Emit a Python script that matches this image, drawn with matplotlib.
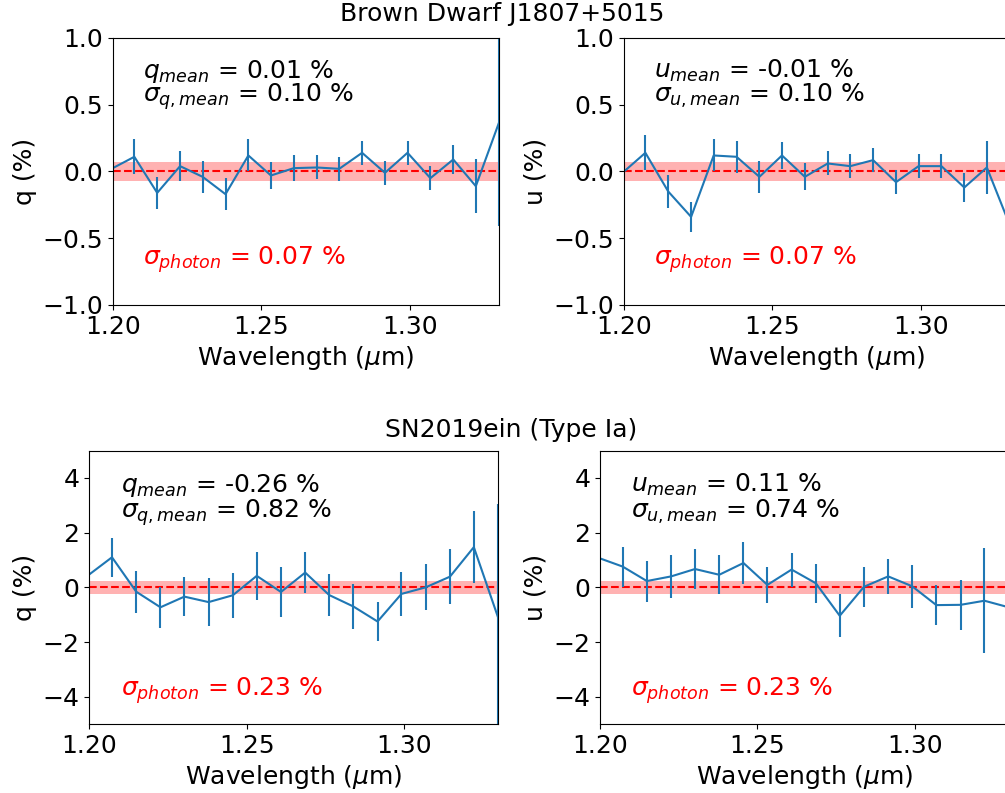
import numpy as np
import matplotlib
matplotlib.use("Agg")
import matplotlib.pyplot as plt

# wavelength bins (micron)
wave = [1.1995, 1.2072, 1.2149, 1.2226, 1.2302, 1.2379, 1.2456, 1.2532, 1.2609,
        1.2686, 1.2762, 1.2839, 1.2916, 1.2992, 1.3069, 1.3146, 1.3222, 1.3299]

# brown dwarf J1807+5015
q_bd = [0.02, 0.11, -0.16, 0.04, -0.04, -0.17, 0.12, -0.03, 0.025,
        0.03, 0.02, 0.14, -0.01, 0.14, -0.05, 0.09, -0.11, 0.36]
q_bd_err = [0.12, 0.13, 0.12, 0.11, 0.12, 0.12, 0.12, 0.10, 0.10,
            0.09, 0.09, 0.09, 0.09, 0.09, 0.09, 0.11, 0.20, 0.77]
u_bd = [-0.01, 0.14, -0.15, -0.34, 0.12, 0.11, -0.04, 0.12, -0.04,
        0.06, 0.04, 0.085, -0.08, 0.04, 0.04, -0.12, 0.03, -0.40]
u_bd_err = [0.12, 0.13, 0.12, 0.11, 0.12, 0.12, 0.12, 0.10, 0.10,
            0.09, 0.09, 0.09, 0.09, 0.09, 0.09, 0.11, 0.20, 0.77]

# SN2019ein
q_sn = [0.43, 1.10, -0.16, -0.73, -0.34, -0.54, -0.29, 0.42, -0.17,
        0.54, -0.28, -0.70, -1.25, -0.24, 0.0, 0.39, 1.47, -1.10]
q_sn_err = [0.75, 0.72, 0.77, 0.75, 0.72, 0.87, 0.83, 0.87, 0.91,
            0.76, 0.77, 0.81, 0.72, 0.80, 0.84, 1.00, 1.31, 4.16]
u_sn = [1.08, 0.76, 0.23, 0.40, 0.67, 0.46, 0.89, 0.09, 0.65,
        0.15, -1.04, 0.02, 0.40, 0.04, -0.65, -0.64, -0.49, -0.73]
u_sn_err = [0.75, 0.73, 0.75, 0.78, 0.72, 0.71, 0.76, 0.67, 0.62,
            0.72, 0.78, 0.74, 0.63, 0.79, 0.72, 0.91, 1.93, 4.00]

# summary numbers (%)
stats_bd = {"q": (0.01, 0.10), "u": (-0.01, 0.10)}
stats_sn = {"q": (-0.26, 0.82), "u": (0.11, 0.74)}
sig_photon_bd = 0.07
sig_photon_sn = 0.23


def panel(ax, y, yerr, stokes, stats, sig_phot, ylim, yticks, text_y):
    ax.axhspan(-sig_phot, sig_phot, color="red", alpha=0.3, lw=0)
    ax.axhline(0, color="r", linestyle="--", lw=1.5)
    ax.errorbar(wave, y, yerr=yerr, color="C0", lw=1.5)
    ax.set_xlim(1.20, 1.33)
    ax.set_ylim(ylim)
    ax.set_xticks([1.20, 1.25, 1.30])
    ax.set_xticklabels(["1.20", "1.25", "1.30"])
    ax.set_yticks(yticks)
    ax.tick_params(labelsize=18)
    ax.set_xlabel(r"Wavelength ($\mu$m)", fontsize=18)
    ax.set_ylabel("%s (%%)" % stokes, fontsize=18)
    mean, sig = stats
    ax.text(1.21, text_y[0], r"$%s_{mean}$ = %.2f %%" % (stokes, mean),
            fontsize=18, va="baseline")
    ax.text(1.21, text_y[1], r"$\sigma_{%s, mean}$ = %.2f %%" % (stokes, sig),
            fontsize=18, va="baseline")
    ax.text(1.21, text_y[2], r"$\sigma_{photon}$ = %.2f %%" % sig_phot,
            fontsize=18, va="baseline", color="red")


fig = plt.figure(figsize=(10.05, 7.93), dpi=100)

ax1 = fig.add_axes([0.1124, 0.6154, 0.3841, 0.3367])
ax2 = fig.add_axes([0.6209, 0.6154, 0.3841, 0.3367])
ax3 = fig.add_axes([0.0889, 0.0870, 0.4070, 0.3447])
ax4 = fig.add_axes([0.5970, 0.0870, 0.4070, 0.3447])

top_ticks = [-1.0, -0.5, 0.0, 0.5, 1.0]
bot_ticks = [-4, -2, 0, 2, 4]
panel(ax1, q_bd, q_bd_err, "q", stats_bd["q"], sig_photon_bd, (-1, 1), top_ticks, (0.70, 0.52, -0.70))
panel(ax2, u_bd, u_bd_err, "u", stats_bd["u"], sig_photon_bd, (-1, 1), top_ticks, (0.70, 0.52, -0.70))
panel(ax3, q_sn, q_sn_err, "q", stats_sn["q"], sig_photon_sn, (-5, 5), bot_ticks, (3.5, 2.53, -3.95))
panel(ax4, u_sn, u_sn_err, "u", stats_sn["u"], sig_photon_sn, (-5, 5), bot_ticks, (3.5, 2.53, -3.95))

fig.text(502 / 1005, 1 - 21 / 793, "Brown Dwarf J1807+5015", fontsize=18,
         ha="center", va="baseline")
fig.text(511 / 1005, 1 - 437 / 793, "SN2019ein (Type Ia)", fontsize=18,
         ha="center", va="baseline")

fig.savefig("out.png", dpi=100)
